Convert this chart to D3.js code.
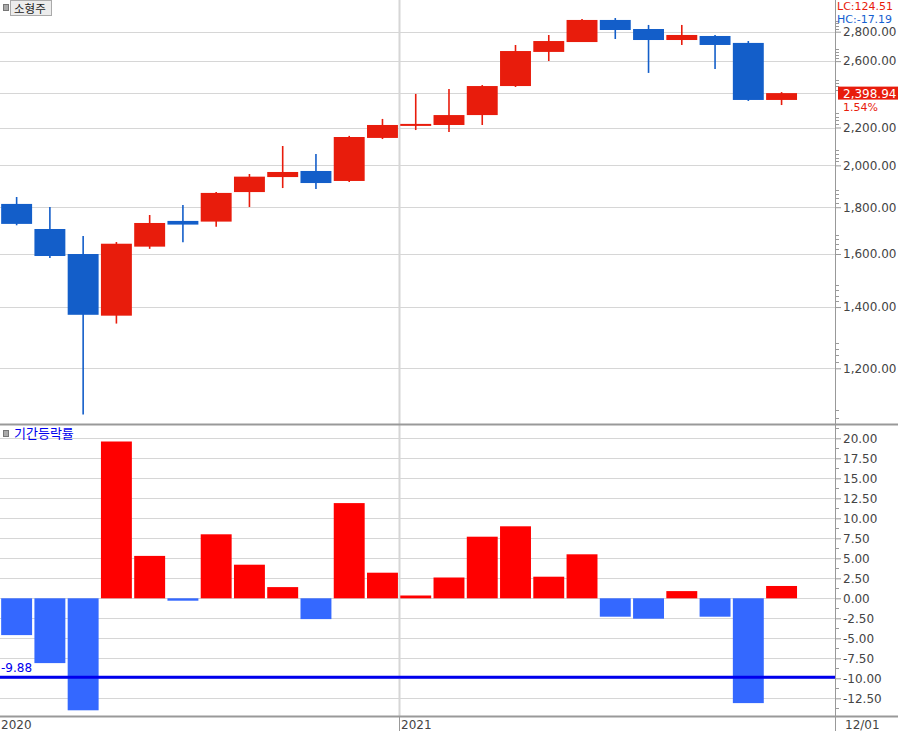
<!DOCTYPE html>
<html>
<head>
<meta charset="utf-8">
<script src="https://cdn.jsdelivr.net/npm/d3@7"></script>
<style>
  body { margin: 0; background: #fff; }
  text { font-family: "Noto Sans CJK KR", "DejaVu Sans", sans-serif; font-size: 12px; }
</style>
</head>
<body>
<script>
// monthly candles, 2020-01 .. 2021-12
var months = ["2020-01","2020-02","2020-03","2020-04","2020-05","2020-06","2020-07","2020-08","2020-09","2020-10","2020-11","2020-12",
              "2021-01","2021-02","2021-03","2021-04","2021-05","2021-06","2021-07","2021-08","2021-09","2021-10","2021-11","2021-12"];
var open  = [1815,1704,1600,1370,1630,1739,1736,1870,1942,1972,1923,2143,2209,2214,2270,2442,2661,2728,2884,2819,2742,2770,2722,2358];
var high  = [1847,1801,1674,1649,1765,1810,1870,1957,2100,2058,2154,2248,2394,2424,2448,2708,2777,2891,2898,2848,2848,2777,2735,2405];
var low   = [1720,1584,1068,1343,1621,1648,1714,1801,1889,1885,1918,2137,2186,2175,2214,2436,2601,2728,2749,2524,2708,2549,2352,2328];
var close = [1726,1592,1373,1642,1730,1723,1866,1944,1967,1913,2148,2214,2220,2270,2442,2667,2735,2884,2812,2742,2777,2708,2358,2398.94];
// 기간등락률 (%)
var rates = [-4.6,-8.1,-14.0,19.6,5.3,-0.3,8.0,4.2,1.4,-2.6,11.9,3.2,0.35,2.6,7.7,9.0,2.7,5.5,-2.3,-2.55,0.9,-2.3,-13.1,1.54];

var priceTicks = [1200,1400,1600,1800,2000,2200,2400,2600,2800];
var rateTicks = [-12.5,-10,-7.5,-5,-2.5,0,2.5,5,7.5,10,12.5,15,17.5,20];
var refLine = -9.88;
var yearLabels = [{m: "2020-01", label: "2020"}, {m: "2021-01", label: "2021"}];

var W = 898, H = 731;
var plotRight = 835;
var topPanel = {y0: 0, y1: 424};
var botPanel = {y0: 424, y1: 716};

var red = "#e81c0c", blue = "#135ec9";
var barRed = "#ff0000", barBlue = "#3468ff";
var grid = "#d6d6d6", axisCol = "#999", txt = "#444";
var numFont = '"DejaVu Sans", sans-serif';

// plain hyphen for negatives
var loc = d3.formatLocale({decimal: ".", thousands: ",", grouping: [3], currency: ["", ""], minus: "-"});
var fmt2 = loc.format(".2f"), fmtPrice = loc.format(",.2f");

var svg = d3.select("body").append("svg")
  .attr("width", W)
  .attr("height", H);

var x = d3.scaleBand()
  .domain(months)
  .range([0, 798.2])
  .paddingInner(0.07)
  .paddingOuter(0.035);

var yP = d3.scaleLog()
  .domain([1200, 2800])
  .range([368.3, 31.7]);

var yR = d3.scaleLinear()
  .domain([-12.5, 20])
  .range([698.3, 438.3]);

svg.append("defs").append("clipPath").attr("id", "clipTop")
  .append("rect").attr("x", 0).attr("y", topPanel.y0).attr("width", plotRight).attr("height", topPanel.y1 - topPanel.y0);
svg.append("defs").append("clipPath").attr("id", "clipBot")
  .append("rect").attr("x", 0).attr("y", botPanel.y0).attr("width", plotRight).attr("height", botPanel.y1 - botPanel.y0);

// grid lines
svg.append("g").selectAll("line")
  .data(priceTicks)
  .enter().append("line")
  .attr("x1", 0).attr("x2", plotRight)
  .attr("y1", d => Math.round(yP(d)) + 0.5).attr("y2", d => Math.round(yP(d)) + 0.5)
  .style("stroke", grid);

svg.append("g").selectAll("line")
  .data(rateTicks)
  .enter().append("line")
  .attr("x1", 0).attr("x2", plotRight)
  .attr("y1", d => Math.round(yR(d)) + 0.5).attr("y2", d => Math.round(yR(d)) + 0.5)
  .style("stroke", grid);

// year separator
var yearX = x("2021-01") - x.step() * x.paddingInner() / 2;
svg.append("line")
  .attr("x1", Math.round(yearX) + 0.5).attr("x2", Math.round(yearX) + 0.5)
  .attr("y1", 0).attr("y2", botPanel.y1)
  .style("stroke", grid).style("stroke-width", 2);

// candles
var candles = svg.append("g").attr("clip-path", "url(#clipTop)")
  .selectAll("g")
  .data(months.map((m, i) => ({m: m, o: open[i], h: high[i], l: low[i], c: close[i]})))
  .enter().append("g");

candles.append("line")
  .attr("x1", d => x(d.m) + x.bandwidth() / 2)
  .attr("x2", d => x(d.m) + x.bandwidth() / 2)
  .attr("y1", d => yP(d.h))
  .attr("y2", d => yP(d.l))
  .style("stroke", d => d.c >= d.o ? red : blue)
  .style("stroke-width", 1.6);

candles.append("rect")
  .attr("x", d => x(d.m))
  .attr("width", x.bandwidth())
  .attr("y", d => yP(Math.max(d.o, d.c)))
  .attr("height", d => Math.max(2, yP(Math.min(d.o, d.c)) - yP(Math.max(d.o, d.c))))
  .style("fill", d => d.c >= d.o ? red : blue);

// rate bars
svg.append("g").attr("clip-path", "url(#clipBot)")
  .selectAll("rect")
  .data(rates)
  .enter().append("rect")
  .attr("x", (d, i) => x(months[i]))
  .attr("width", x.bandwidth())
  .attr("y", d => d >= 0 ? yR(d) : yR(0))
  .attr("height", d => Math.max(2, Math.abs(yR(d) - yR(0))))
  .style("fill", d => d >= 0 ? barRed : barBlue);

// reference line
svg.append("line")
  .attr("x1", 0).attr("x2", plotRight)
  .attr("y1", yR(refLine)).attr("y2", yR(refLine))
  .style("stroke", "#0000ee").style("stroke-width", 3);
svg.append("text")
  .attr("x", 1).attr("y", yR(refLine) - 5)
  .style("fill", "#0000ee").style("font-family", numFont)
  .text(fmt2(refLine));

// panel frames
svg.append("line").attr("x1", 0).attr("x2", W).attr("y1", topPanel.y1 + 0.5).attr("y2", topPanel.y1 + 0.5)
  .style("stroke", axisCol).style("stroke-width", 2);
svg.append("line").attr("x1", 0).attr("x2", W).attr("y1", botPanel.y1 + 0.5).attr("y2", botPanel.y1 + 0.5)
  .style("stroke", axisCol).style("stroke-width", 2);
svg.append("line").attr("x1", plotRight + 0.5).attr("x2", plotRight + 0.5).attr("y1", 0).attr("y2", H)
  .style("stroke", axisCol);

// right axes
var priceAxis = d3.axisRight(yP)
  .tickValues(priceTicks)
  .tickSize(6)
  .tickFormat(fmtPrice);
var pa = svg.append("g").attr("transform", `translate(${plotRight},0)`).call(priceAxis);

var priceMinor = [];
priceTicks.concat([1000]).forEach(t => { for (var k = 1; k <= 4; k++) priceMinor.push(t + 20 * k); });
svg.append("g").selectAll("line")
  .data(priceMinor.filter(v => yP(v) > 2 && yP(v) < topPanel.y1 - 2))
  .enter().append("line")
  .attr("x1", plotRight).attr("x2", plotRight + 4)
  .attr("y1", d => Math.round(yP(d)) + 0.5).attr("y2", d => Math.round(yP(d)) + 0.5)
  .style("stroke", axisCol);

var rateAxis = d3.axisRight(yR)
  .tickValues(rateTicks)
  .tickSize(6)
  .tickFormat(fmt2);
var ra = svg.append("g").attr("transform", `translate(${plotRight},0)`).call(rateAxis);

var rateMinor = d3.range(-13.75, 21.5, 2.5);
svg.append("g").selectAll("line")
  .data(rateMinor.filter(v => yR(v) > botPanel.y0 + 2 && yR(v) < botPanel.y1 - 2))
  .enter().append("line")
  .attr("x1", plotRight).attr("x2", plotRight + 4)
  .attr("y1", d => Math.round(yR(d)) + 0.5).attr("y2", d => Math.round(yR(d)) + 0.5)
  .style("stroke", axisCol);

[pa, ra].forEach(g => {
  g.select(".domain").remove();
  g.selectAll(".tick line").style("stroke", axisCol);
  g.selectAll(".tick text")
    .attr("x", 8)
    .style("fill", txt)
    .style("font-size", "12px")
    .style("font-family", numFont);
});
pa.selectAll(".tick").filter(d => d === 2400).remove();

// last price tag
var last = close[close.length - 1];
svg.append("rect")
  .attr("x", 838).attr("y", yP(last) - 6.5).attr("width", 60).attr("height", 13)
  .style("fill", red);
svg.append("text")
  .attr("x", 843).attr("y", yP(last) + 4.5)
  .style("fill", "#fff").style("font-family", numFont)
  .text(fmtPrice(last));
svg.append("text")
  .attr("x", 843).attr("y", yP(last) + 17.5)
  .style("fill", red).style("font-family", numFont).style("font-size", "11px")
  .text(fmt2(rates[rates.length - 1]) + "%");

svg.append("text").attr("x", 837).attr("y", 10)
  .style("fill", red).style("font-family", numFont).style("font-size", "11px").text("LC:124.51");
svg.append("text").attr("x", 837).attr("y", 22.5)
  .style("fill", "#1560d0").style("font-family", numFont).style("font-size", "11px").text("HC:-17.19");

// x axis labels
svg.append("g").selectAll("text")
  .data(yearLabels)
  .enter().append("text")
  .attr("x", d => d.m === "2020-01" ? 1 : yearX + 2)
  .attr("y", 729)
  .style("fill", txt).style("font-family", numFont)
  .text(d => d.label);
svg.append("line")
  .attr("x1", Math.round(yearX) + 0.5).attr("x2", Math.round(yearX) + 0.5)
  .attr("y1", botPanel.y1).attr("y2", H)
  .style("stroke", axisCol);
svg.append("text").attr("x", 845).attr("y", 729)
  .style("fill", txt).style("font-family", numFont).text("12/01");

// legends
svg.append("rect").attr("x", 3.5).attr("y", 4.5).attr("width", 5).attr("height", 6)
  .style("fill", "#aaa").style("stroke", "#777");
svg.append("rect").attr("x", 10.5).attr("y", 0.5).attr("width", 41).attr("height", 15)
  .style("fill", "#ececec").style("stroke", "#aaa");
svg.append("text").attr("x", 14).attr("y", 12.5).style("fill", "#222").style("font-size", "11.5px").text("소형주");

svg.append("rect").attr("x", 3.5).attr("y", 430.5).attr("width", 5).attr("height", 6)
  .style("fill", "#aaa").style("stroke", "#777");
svg.append("text").attr("x", 14).attr("y", 438).style("fill", "#0000ee").style("font-size", "13px").text("기간등락률");
</script>
</body>
</html>
